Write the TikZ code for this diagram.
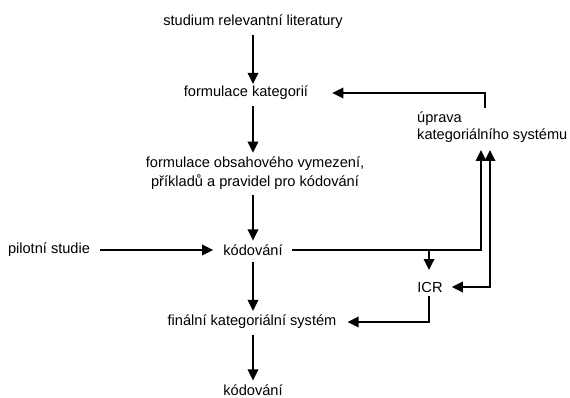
\documentclass[tikz,border=0pt]{standalone}
\usepackage{fontspec}
\setmainfont{Liberation Sans}
\usetikzlibrary{arrows.meta}
\begin{document}
\begin{tikzpicture}[x=1pt,y=-1pt,
  txt/.style={inner sep=0pt,font=\fontsize{14.6}{18.5}\selectfont},
  ln/.style={line width=1.8pt},
  arr/.style={ln,-{Triangle[length=11pt,width=10.5pt]}}]
\useasboundingbox (0,0) rectangle (570,398);
% main column
\node[txt] (s1) at (253,22) {studium relevantní literatury};
\node[txt] (s2) at (246,93) {formulace kategorií};
\node[txt,align=center] (s3) at (255,173) {formulace obsahového vymezení,\\příkladů a pravidel pro kódování};
\node[txt] (s4) at (253,250) {kódování};
\node[txt] (pil) at (49,250) {pilotní studie};
\node[txt] (s5) at (252,322) {finální kategoriální systém};
\node[txt] (s6) at (253,390) {kódování};
% right side
\node[txt] (icr) at (430,287) {ICR};
\node[txt,align=left,anchor=base west,font=\fontsize{14.6}{17}\selectfont] (upr) at (417,140) {úprava\\kategoriálního systému};
% vertical flow
\draw[arr,shorten <=6pt,shorten >=2pt] (s1.south -| 253,0) -- (s2.north -| 253,0);
\draw[arr,shorten <=6pt,shorten >=4pt] (s2.south -| 253,0) -- (s3.north -| 253,0);
\draw[arr,shorten <=6pt,shorten >=4pt] (s3.south -| 253,0) -- (s4.north -| 253,0);
\draw[arr,shorten <=6pt,shorten >=4pt] (s4.south -| 253,0) -- (s5.north -| 253,0);
\draw[arr,shorten <=6pt,shorten >=4pt] (s5.south -| 253,0) -- (s6.north -| 253,0);
% side inputs
\draw[arr,shorten <=10pt,shorten >=10pt] (pil.east) -- (s4.west);
\coordinate (uprL) at (481,150);
\coordinate (uprR) at (490,150);
\draw[arr,shorten <=9pt] (s4.east) -| (uprL);
\draw[arr] (s4.east -| 429,0) -- (429,270);
\draw[ln,{Triangle[length=11pt,width=10.5pt]}-{Triangle[length=11pt,width=10.5pt]},shorten <=9pt] (icr.east) -| (uprR);
\draw[arr,shorten <=4pt,shorten >=11pt] ([xshift=-1pt]icr.south) |- (s5.east);
\draw[arr,shorten >=24pt] (485,108) |- (s2.east);
\end{tikzpicture}
\end{document}
